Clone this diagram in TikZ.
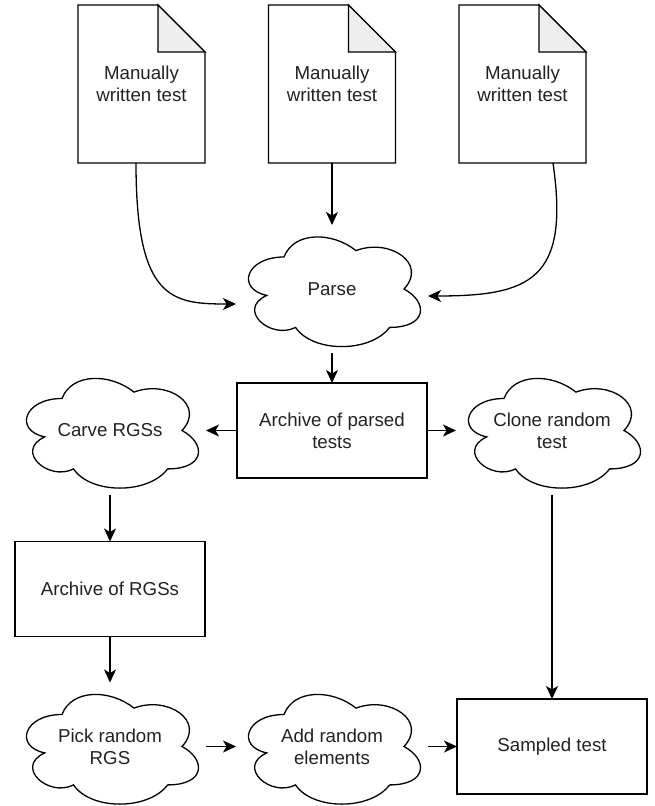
\documentclass[tikz,border=0pt]{standalone}
\usepackage{fontspec}
\setmainfont{Liberation Sans}
\usetikzlibrary{arrows.meta, positioning}
\definecolor{FoldGray}{HTML}{EEEEEE}
\definecolor{TextGray}{HTML}{222222}

\tikzset{
  >={Stealth[length=13pt, width=12pt, inset=3.5pt]},
  docbox/.style={minimum width=127pt, minimum height=158pt, outer sep=0pt, text=TextGray},
  cloudbox/.style={minimum width=192pt, minimum height=128pt, outer sep=0pt, text=TextGray},
  procbox/.style={draw, line width=1.3pt, minimum width=190pt, minimum height=95pt, outer sep=0pt, text=TextGray},
  flow/.style={->, line width=1.3pt}
}

\begin{document}
\begin{tikzpicture}[x=1pt, y=-1pt, node distance=30pt, align=center, font=\fontsize{18.7pt}{22pt}\selectfont]
  \useasboundingbox (0,0) rectangle (654,806);

  \node (parse) [cloudbox] at (332,289) {Parse};
  \node (tests2) [docbox, above=62pt of parse] {Manually\\written test};
  \node (tests1) [docbox, left=63.5pt of tests2] {Manually\\written test};
  \node (tests3) [docbox, right=63.5pt of tests2] {Manually\\written test};

  \node (archparsed) [procbox, below=of parse] {Archive of parsed\\tests};
  \node (carve) [cloudbox, left=31pt of archparsed] {Carve RGSs};
  \node (clone) [cloudbox, right=29pt of archparsed] {Clone random\\test};
  \node (archrgs) [procbox, below=47pt of carve] {Archive of RGSs};
  \node (pick) [cloudbox, below=46pt of archrgs] {Pick random\\RGS};
  \node (add) [cloudbox, right=of pick] {Add random\\elements};
  \node (sampled) [procbox, right=29pt of add] {Sampled test};

  % documents with folded corner
  \foreach \d in {tests1, tests2, tests3} {
    \draw[line width=1.3pt] (\d.north west) -- ([xshift=-47pt]\d.north east) -- ([yshift=-47pt]\d.north east)
      -- (\d.south east) -- (\d.south west) -- cycle;
    \draw[line width=1.3pt, fill=FoldGray] ([xshift=-47pt]\d.north east) -- ([xshift=-47pt, yshift=-47pt]\d.north east)
      -- ([yshift=-47pt]\d.north east) -- cycle;
  }

  % clouds
  \foreach \c in {parse, carve, clone, pick, add}
    \draw[line width=1.3pt, shift={(\c.north west)}, x=192pt, y=-128pt]
      (0.25,0.25) .. controls (0.05,0.25) and (0,0.5) .. (0.16,0.55)
      .. controls (0,0.66) and (0.18,0.9) .. (0.31,0.8)
      .. controls (0.4,1) and (0.7,1) .. (0.8,0.8)
      .. controls (1,0.8) and (1,0.6) .. (0.875,0.5)
      .. controls (1,0.3) and (0.8,0.1) .. (0.625,0.2)
      .. controls (0.5,0.05) and (0.3,0.05) .. (0.25,0.25) -- cycle;

  \draw[flow] ([xshift=-5.5pt]tests1.south) .. controls +(0,137) and +(-64,0) .. ([yshift=-15pt]parse.west);
  \draw[flow] (tests2) -- (parse);
  \draw[flow] ([xshift=30.5pt]tests3.south) .. controls +(17,117) and +(102,0) .. ([yshift=-7pt]parse.east);
  \draw[flow] (parse) -- (archparsed);
  \draw[flow] (archparsed) -- (carve);
  \draw[flow] (archparsed) -- (clone);
  \draw[flow] (carve) -- (archrgs);
  \draw[flow] (archrgs) -- (pick);
  \draw[flow] (pick) -- (add);
  \draw[flow] (add) -- (sampled);
  \draw[flow] (clone) -- (sampled);
\end{tikzpicture}
\end{document}
